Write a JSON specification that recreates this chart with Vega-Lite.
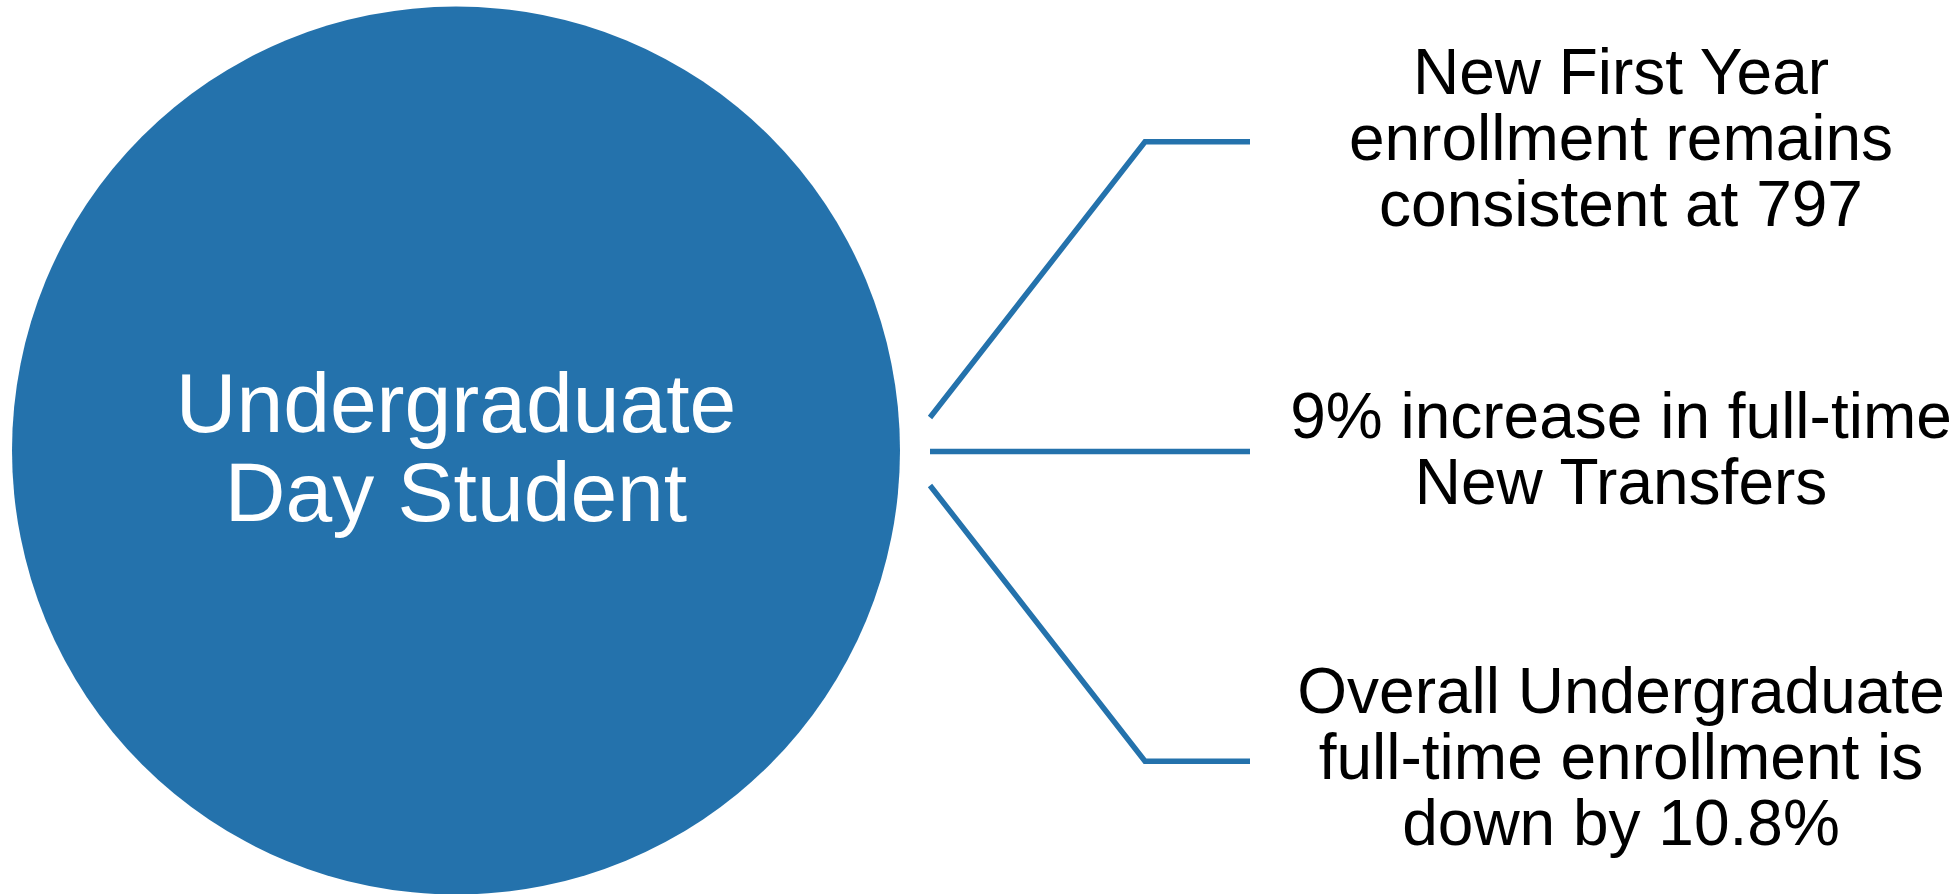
{
  "$schema": "https://vega.github.io/schema/vega-lite/v6.json",
  "width": 1957,
  "height": 894,
  "autosize": {"type": "fit", "contains": "padding"},
  "padding": 0,
  "background": "white",
  "config": {"view": {"stroke": null}},
  "datasets": {
    "hub": [{"name": "Undergraduate Day Student", "x": 456, "y": 451}],
    "links": [
      {"link": "first", "step": 1, "x": 930, "y": 418},
      {"link": "first", "step": 2, "x": 1145, "y": 142},
      {"link": "first", "step": 3, "x": 1250, "y": 142},
      {"link": "transfer", "step": 1, "x": 930, "y": 452},
      {"link": "transfer", "step": 2, "x": 1250, "y": 452},
      {"link": "overall", "step": 1, "x": 930, "y": 486},
      {"link": "overall", "step": 2, "x": 1145, "y": 762},
      {"link": "overall", "step": 3, "x": 1250, "y": 762}
    ],
    "hubLabel": [{"label": "Undergraduate|Day Student", "x": 456, "y": 432}],
    "notes": [
      {"label": "New First Year|enrollment remains|consistent at 797", "x": 1621, "y": 94},
      {"label": "9% increase in full-time|New Transfers", "x": 1621, "y": 438},
      {"label": "Overall Undergraduate|full-time enrollment is|down by 10.8%", "x": 1621, "y": 714}
    ]
  },
  "layer": [
    {
      "data": {"name": "hub"},
      "mark": {"type": "point", "shape": "circle", "filled": true, "color": "#2472AC", "opacity": 1, "size": 788544, "strokeWidth": 0},
      "encoding": {
        "x": {"field": "x", "type": "quantitative", "scale": {"domain": [0, 1957], "nice": false, "zero": false}, "axis": null},
        "y": {"field": "y", "type": "quantitative", "scale": {"domain": [0, 894], "nice": false, "zero": false, "reverse": true}, "axis": null}
      }
    },
    {
      "data": {"name": "links"},
      "mark": {"type": "line", "color": "#2472AC", "strokeWidth": 5.5, "strokeCap": "butt", "strokeJoin": "miter"},
      "encoding": {
        "x": {"field": "x", "type": "quantitative"},
        "y": {"field": "y", "type": "quantitative"},
        "detail": {"field": "link", "type": "nominal"},
        "order": {"field": "step", "type": "quantitative"}
      }
    },
    {
      "data": {"name": "hubLabel"},
      "mark": {"type": "text", "font": "Liberation Sans", "fontSize": 84, "color": "white", "align": "center", "baseline": "alphabetic", "lineBreak": "|", "lineHeight": 89},
      "encoding": {
        "x": {"field": "x", "type": "quantitative"},
        "y": {"field": "y", "type": "quantitative"},
        "text": {"field": "label", "type": "nominal"}
      }
    },
    {
      "data": {"name": "notes"},
      "mark": {"type": "text", "font": "Liberation Sans", "fontSize": 64, "color": "black", "align": "center", "baseline": "alphabetic", "lineBreak": "|", "lineHeight": 66},
      "encoding": {
        "x": {"field": "x", "type": "quantitative"},
        "y": {"field": "y", "type": "quantitative"},
        "text": {"field": "label", "type": "nominal"}
      }
    }
  ]
}
